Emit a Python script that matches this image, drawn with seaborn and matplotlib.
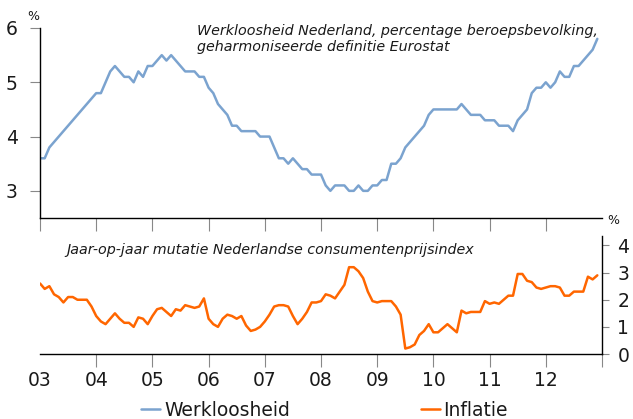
import matplotlib
matplotlib.use("Agg")
import matplotlib.pyplot as plt
import seaborn as sns
import pandas as pd

# monthly values, Jan 2003 .. Dec 2012
werkloosheid = [
    3.6, 3.6, 3.8, 3.9, 4.0, 4.1, 4.2, 4.3, 4.4, 4.5, 4.6, 4.7,
    4.8, 4.8, 5.0, 5.2, 5.3, 5.2, 5.1, 5.1, 5.0, 5.2, 5.1, 5.3,
    5.3, 5.4, 5.5, 5.4, 5.5, 5.4, 5.3, 5.2, 5.2, 5.2, 5.1, 5.1,
    4.9, 4.8, 4.6, 4.5, 4.4, 4.2, 4.2, 4.1, 4.1, 4.1, 4.1, 4.0,
    4.0, 4.0, 3.8, 3.6, 3.6, 3.5, 3.6, 3.5, 3.4, 3.4, 3.3, 3.3,
    3.3, 3.1, 3.0, 3.1, 3.1, 3.1, 3.0, 3.0, 3.1, 3.0, 3.0, 3.1,
    3.1, 3.2, 3.2, 3.5, 3.5, 3.6, 3.8, 3.9, 4.0, 4.1, 4.2, 4.4,
    4.5, 4.5, 4.5, 4.5, 4.5, 4.5, 4.6, 4.5, 4.4, 4.4, 4.4, 4.3,
    4.3, 4.3, 4.2, 4.2, 4.2, 4.1, 4.3, 4.4, 4.5, 4.8, 4.9, 4.9,
    5.0, 4.9, 5.0, 5.2, 5.1, 5.1, 5.3, 5.3, 5.4, 5.5, 5.6, 5.8,
]
inflatie = [
    2.6, 2.4, 2.5, 2.2, 2.1, 1.9, 2.1, 2.1, 2.0, 2.0, 2.0, 1.75,
    1.4, 1.2, 1.1, 1.3, 1.5, 1.3, 1.15, 1.15, 1.0, 1.35, 1.3, 1.1,
    1.4, 1.65, 1.7, 1.55, 1.4, 1.65, 1.6, 1.8, 1.75, 1.7, 1.75, 2.05,
    1.3, 1.1, 1.0, 1.3, 1.45, 1.4, 1.3, 1.4, 1.05, 0.85, 0.9, 1.0,
    1.2, 1.45, 1.75, 1.8, 1.8, 1.75, 1.4, 1.1, 1.3, 1.55, 1.9, 1.9,
    1.95, 2.2, 2.15, 2.05, 2.3, 2.55, 3.2, 3.2, 3.05, 2.8, 2.3, 1.95,
    1.9, 1.95, 1.95, 1.95, 1.75, 1.45, 0.2, 0.25, 0.35, 0.7, 0.85, 1.1,
    0.8, 0.8, 0.95, 1.1, 0.95, 0.8, 1.6, 1.5, 1.55, 1.55, 1.55, 1.95,
    1.85, 1.9, 1.85, 2.0, 2.15, 2.15, 2.95, 2.95, 2.7, 2.65, 2.45, 2.4,
    2.45, 2.5, 2.5, 2.45, 2.15, 2.15, 2.3, 2.3, 2.3, 2.85, 2.75, 2.9,
]
jaren = list(range(2003, 2013))
jaar_labels = ["03", "04", "05", "06", "07", "08", "09", "10", "11", "12"]

maanden = pd.date_range("2003-01-01", periods=len(werkloosheid), freq="MS")
df = pd.DataFrame({
    "t": maanden.year + (maanden.month - 1) / 12,
    "Werkloosheid": werkloosheid,
    "Inflatie": inflatie,
})

sns.set_style("ticks")
plt.rcParams["font.family"] = ["DejaVu Sans"]

blauw = "#7ba3cf"
oranje = "#ff6600"
tekst = "#1a1a1a"
tickgrijs = "#888888"

fig = plt.figure(figsize=(6.33, 4.19), dpi=100)
W, H = 633, 419
ax1 = fig.add_axes([40 / W, (H - 218) / H, 562 / W, (218 - 28) / H])
ax2 = fig.add_axes([40 / W, (H - 354) / H, 562 / W, (354 - 236) / H])

sns.lineplot(data=df, x="t", y="Werkloosheid", ax=ax1, color=blauw, linewidth=1.8, label="Werkloosheid", legend=False)
sns.lineplot(data=df, x="t", y="Inflatie", ax=ax2, color=oranje, linewidth=1.8, label="Inflatie", legend=False)

for ax in (ax1, ax2):
    ax.set_xlim(2003, 2013)
    ax.set_xlabel("")
    ax.set_ylabel("")
    ax.patch.set_alpha(0)
    for s in ax.spines.values():
        s.set_color("black")
        s.set_linewidth(1.0)

# top panel
ax1.set_ylim(2.5, 6)
ax1.set_yticks([3, 4, 5, 6])
ax1.set_xticks(jaren)
ax1.set_xticklabels([])
ax1.spines["top"].set_visible(False)
ax1.spines["right"].set_visible(False)
ax1.tick_params(axis="y", length=7, color=tickgrijs, labelsize=13.5, pad=9, labelcolor=tekst)
ax1.tick_params(axis="x", length=9, color=tickgrijs)

# bottom panel: tick marks between years, labels on the years
ax2.set_ylim(0, 4.35)
ax2.set_yticks([0, 1, 2, 3, 4])
ax2.yaxis.tick_right()
ax2.spines["top"].set_visible(False)
ax2.spines["left"].set_visible(False)
ax2.xaxis.remove_overlapping_locs = False
ax2.set_xticks(jaren[1:] + [2013])
ax2.set_xticklabels([])
ax2.set_xticks(jaren, minor=True)
ax2.set_xticklabels(jaar_labels, minor=True)
ax2.tick_params(axis="x", which="major", length=9, color=tickgrijs)
ax2.tick_params(axis="x", which="minor", length=0, labelsize=13.5, pad=12, labelcolor=tekst)
ax2.tick_params(axis="y", length=5, color=tickgrijs, labelsize=13.5, pad=6, labelcolor=tekst)

fig.text(33 / W, 1 - 16 / H, "%", fontsize=9, ha="center", va="center", color=tekst)
fig.text(613 / W, 1 - 221 / H, "%", fontsize=9, ha="center", va="center", color=tekst)
fig.text(197 / W, 1 - 39 / H,
         "Werkloosheid Nederland, percentage beroepsbevolking,\ngeharmoniseerde definitie Eurostat",
         fontsize=10.3, style="italic", ha="left", va="center", color=tekst, linespacing=1.15)
fig.text(66 / W, 1 - 250 / H, "Jaar-op-jaar mutatie Nederlandse consumentenprijsindex",
         fontsize=10.3, style="italic", ha="left", va="center", color=tekst)

handles = ax1.get_lines()[:1] + ax2.get_lines()[:1]
fig.legend(handles, ["Werkloosheid", "Inflatie"], loc="center", bbox_to_anchor=(0.513, 1 - 410 / H),
           ncol=2, frameon=False, fontsize=13.5, handlelength=1.0, handletextpad=0.2,
           columnspacing=7.0, labelcolor=tekst)

fig.savefig("out.png", dpi=100)
